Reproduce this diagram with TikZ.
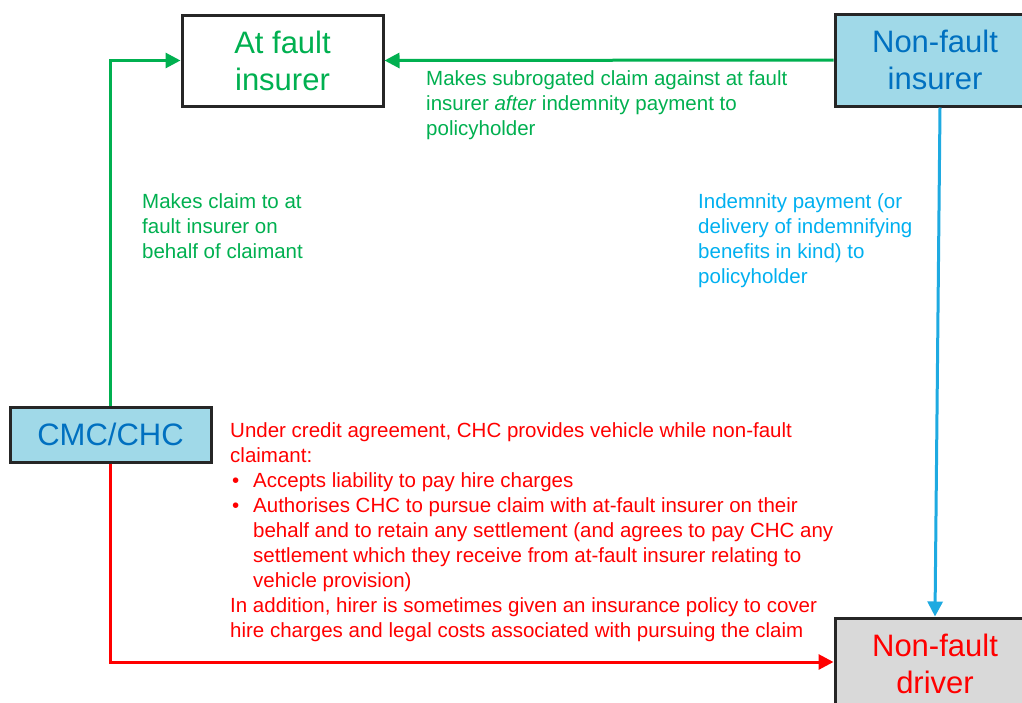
\documentclass[tikz,border=0pt]{standalone}
\usepackage{fontspec}
\setmainfont{Liberation Sans}
\usetikzlibrary{arrows.meta}
\definecolor{pgreen}{RGB}{0,176,80}
\definecolor{pblue}{RGB}{0,176,240}
\definecolor{parrow}{RGB}{30,170,225}
\definecolor{dblue}{RGB}{0,112,192}
\definecolor{lblue}{RGB}{160,217,232}
\definecolor{lgrey}{RGB}{217,217,217}
\definecolor{bord}{RGB}{38,38,38}
\begin{document}
\begin{tikzpicture}[x=1pt,y=-1pt,
  box/.style={draw=bord,line width=3pt,inner sep=0pt,align=center,
    font=\fontsize{31}{37}\selectfont},
  lbl/.style={anchor=base west,inner sep=0pt,align=left,
    font=\fontsize{20.5}{25}\selectfont},
  conn/.style={line width=3pt,-{Triangle[length=15pt,width=15pt]}}]
\clip (0,0) rectangle (1022,702);
\fill[white] (0,0) rectangle (1022,702);
\node[box,fill=white,text=pgreen,minimum width=201pt,minimum height=91pt] (af) at (282.5,60.5) {At fault\\insurer};
\node[box,fill=lblue,text=dblue,minimum width=200pt,minimum height=92pt] (nfi) at (935,60) {Non-fault\\insurer};
\node[box,fill=lblue,text=dblue,minimum width=201pt,minimum height=55pt] (cmc) at (110.5,434.5) {CMC/CHC};
\node[box,fill=lgrey,text=red,minimum width=200pt,minimum height=92pt] (nfd) at (935,664) {Non-fault\\driver};
\draw[conn,pgreen] (nfi.west) -- (af.east);
\draw[conn,pgreen] (cmc.north) |- (af.west);
\draw[conn,parrow] ([xshift=5pt]nfi.south) -- (nfd.north);
\draw[conn,red] (cmc.south) |- ([yshift=2pt]nfd.west);
% anchor base = baseline of the last line
\node[lbl,text=pgreen] (l1) at (426,135) {Makes subrogated claim against at fault\\insurer \textit{after} indemnity payment to\\policyholder};
\node[lbl,text=pgreen] (l2) at (142,258) {Makes claim to at\\fault insurer on\\behalf of claimant};
\node[lbl,text=pblue] (l3) at (698,283) {Indemnity payment (or\\delivery of indemnifying\\benefits in kind) to\\policyholder};
\node[lbl,text=red] (l4) at (230,637) {Under credit agreement, CHC provides vehicle while non-fault\\
claimant:\\
\hspace*{2pt}\makebox[21pt][l]{•}Accepts liability to pay hire charges\\
\hspace*{2pt}\makebox[21pt][l]{•}Authorises CHC to pursue claim with at-fault insurer on their\\
\hspace*{23pt}behalf and to retain any settlement (and agrees to pay CHC any\\
\hspace*{23pt}settlement which they receive from at-fault insurer relating to\\
\hspace*{23pt}vehicle provision)\\
In addition, hirer is sometimes given an insurance policy to cover\\
hire charges and legal costs associated with pursuing the claim};
\end{tikzpicture}
\end{document}
